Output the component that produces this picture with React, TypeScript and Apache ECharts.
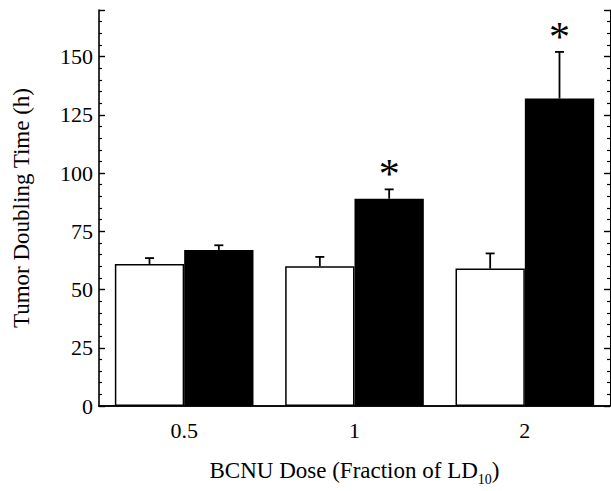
import React, { useEffect, useRef } from "react";
import * as echarts from "echarts";

const categories = ["0.5", "1", "2"];
const controlValues = [61, 60, 59];
const controlErrTop = [63.5, 64, 65.5];
const treatedValues = [67, 89, 132];
const treatedErrTop = [69, 93, 152];
const treatedSignificant = [false, true, true];
const yTicksMax = 150;

const BAR_FRAC = 0.407;
const FONT = "'Liberation Serif', 'Times New Roman', serif";

export default function App() {
  const ref = useRef<HTMLDivElement>(null);
  useEffect(() => {
    if (!ref.current) return;
    const chart = echarts.init(ref.current, null, { renderer: "svg" });

    const makeErr = (sign: number, sigs: boolean[]) => (params: any, api: any) => {
      const i = api.value(0);
      const v = api.value(1);
      const e = api.value(2);
      const band = api.size([1, 0])[0];
      const off = (sign * band * BAR_FRAC) / 2;
      const b = api.coord([i, v]);
      const t = api.coord([i, e]);
      const x = b[0] + off;
      const style = { stroke: "#000", lineWidth: 1.8 };
      const children: any[] = [
        { type: "line", shape: { x1: x, y1: b[1], x2: x, y2: t[1] }, style },
        { type: "line", shape: { x1: x - 4.5, y1: t[1], x2: x + 4.5, y2: t[1] }, style },
      ];
      if (sigs[params.dataIndex]) {
        children.push({
          type: "text",
          x: x,
          y: t[1] + 6,
          style: {
            text: "*",
            fill: "#000",
            font: `42px ${FONT}`,
            align: "center",
            verticalAlign: "bottom",
          },
        });
      }
      return { type: "group", children };
    };

    const axisLabelStyle = { color: "#000", fontFamily: FONT, fontSize: 22 };

    chart.setOption({
      animation: false,
      backgroundColor: "#fff",
      grid: { left: 99, right: 1, top: 10, bottom: 80 },
      xAxis: [
        {
          type: "category",
          data: categories,
          position: "bottom",
          axisLine: { lineStyle: { color: "#000", width: 1.6 } },
          axisTick: { alignWithLabel: true, inside: false, length: 5, lineStyle: { color: "#000", width: 1.2 } },
          axisLabel: { ...axisLabelStyle, margin: 13 },
          name: "{a|BCNU Dose (Fraction of LD}{s|10}{a|)}",
          nameLocation: "middle",
          nameGap: 51,
          nameTextStyle: {
            rich: {
              a: { fontFamily: FONT, fontSize: 23, color: "#000", lineHeight: 26 },
              s: { fontFamily: FONT, fontSize: 14, color: "#000", lineHeight: 26, verticalAlign: "bottom", padding: [0, 0, -3, 0] },
            },
          },
          splitLine: { show: false },
        },
        {
          type: "category",
          data: categories,
          position: "top",
          axisLine: { lineStyle: { color: "#000", width: 1.6 } },
          axisTick: { alignWithLabel: true, inside: true, length: 5, lineStyle: { color: "#000", width: 1.2 } },
          axisLabel: { show: false },
          splitLine: { show: false },
        },
      ],
      yAxis: [
        {
          type: "value",
          min: 0,
          max: 170,
          interval: 25,
          position: "left",
          axisLine: { show: true, lineStyle: { color: "#000", width: 1.6 } },
          axisTick: { show: true, inside: true, length: 6, lineStyle: { color: "#000", width: 1.4 } },
          minorTick: { show: true, splitNumber: 5, length: 3, lineStyle: { color: "#000", width: 1.2 } },
          axisLabel: {
            ...axisLabelStyle,
            margin: 6,
            showMaxLabel: false,
            formatter: (v: number) => (v <= yTicksMax ? String(v) : ""),
          },
          splitLine: { show: false },
          name: "Tumor Doubling Time (h)",
          nameLocation: "middle",
          nameGap: 66,
          nameRotate: 90,
          nameTextStyle: { fontFamily: FONT, fontSize: 23, color: "#000" },
        },
        {
          type: "value",
          min: 0,
          max: 170,
          interval: 25,
          position: "right",
          axisLine: { show: true, lineStyle: { color: "#000", width: 1 } },
          axisTick: { show: true, inside: true, length: 6, lineStyle: { color: "#000", width: 1.4 } },
          minorTick: { show: true, splitNumber: 5, length: 3, lineStyle: { color: "#000", width: 1.2 } },
          axisLabel: { show: false },
          splitLine: { show: false },
        },
      ],
      series: [
        {
          type: "bar",
          data: controlValues,
          barWidth: `${BAR_FRAC * 100}%`,
          barGap: "0%",
          itemStyle: { color: "#fff", borderColor: "#000", borderWidth: 1.5 },
          z: 2,
        },
        {
          type: "bar",
          data: treatedValues,
          barWidth: `${BAR_FRAC * 100}%`,
          barGap: "0%",
          itemStyle: { color: "#000" },
          z: 2,
        },
        {
          type: "custom",
          renderItem: makeErr(-1, [false, false, false]),
          data: controlValues.map((v, i) => [i, v, controlErrTop[i]]),
          encode: { x: 0, y: [1, 2] },
          clip: false,
          z: 3,
        },
        {
          type: "custom",
          renderItem: makeErr(1, treatedSignificant),
          data: treatedValues.map((v, i) => [i, v, treatedErrTop[i]]),
          encode: { x: 0, y: [1, 2] },
          clip: false,
          z: 3,
        },
      ],
    });
    return () => chart.dispose();
  }, []);
  return <div ref={ref} style={{ width: 611, height: 491, position: "absolute", left: 0, top: 0 }} />;
}
